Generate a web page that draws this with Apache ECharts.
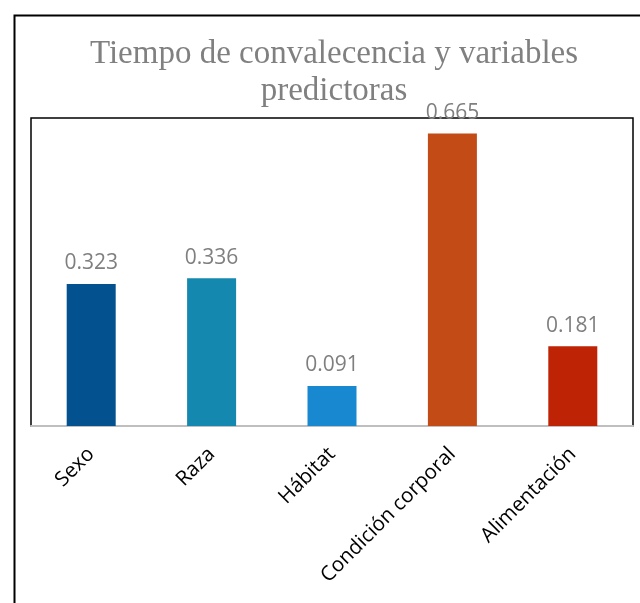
<!DOCTYPE html>
<html><head><meta charset="utf-8">
<script src="https://cdn.jsdelivr.net/npm/echarts@6/dist/echarts.min.js"></script>
<style>html,body{margin:0;padding:0;background:#fff}#c{width:640px;height:603px}</style>
</head><body><div id="c"></div>
<script>
const categories = ['Sexo', 'Raza', 'Hábitat', 'Condición corporal', 'Alimentación'];
const values = [0.323, 0.336, 0.091, 0.665, 0.181];
const barColors = ['#03528F', '#1488AE', '#1889D1', '#C34B16', '#BE2306'];
const titleText = 'Tiempo de convalecencia y variables\npredictoras';

const chart = echarts.init(document.getElementById('c'));
chart.setOption({
  animation: false,
  backgroundColor: '#fff',
  title: {
    text: titleText,
    left: 329, textAlign: 'center', top: 31,
    textStyle: { fontFamily: 'Liberation Serif', fontSize: 33, fontWeight: 'normal', color: '#808080', lineHeight: 37 }
  },
  graphic: [{
    type: 'rect', left: 12, top: 13, shape: { width: 700, height: 700 },
    style: { fill: 'none', stroke: '#000', lineWidth: 2 }, silent: true, z: 100
  }],
  grid: { left: 31, right: 7, top: 118, bottom: 177, show: true, borderColor: '#000', borderWidth: 1.5, containLabel: false },
  xAxis: {
    type: 'category', data: categories,
    axisLine: { show: true, lineStyle: { color: '#bfbfbf', width: 2 } },
    axisTick: { show: false },
    axisLabel: { rotate: 45, margin: 25, fontFamily: 'Open Sans', fontSize: 20.5, color: '#000' }
  },
  yAxis: {
    type: 'value', min: 0, max: 0.7,
    axisLine: { show: false }, axisTick: { show: false }, axisLabel: { show: false }, splitLine: { show: false }
  },
  series: [{
    type: 'bar', barWidth: 49,
    data: values.map((v, i) => ({ value: v, itemStyle: { color: barColors[i] } })),
    label: { show: true, position: 'top', distance: 10, fontFamily: 'Open Sans', fontSize: 21, color: '#7f7f7f', formatter: p => p.value.toFixed(3) }
  }]
});
</script></body></html>
